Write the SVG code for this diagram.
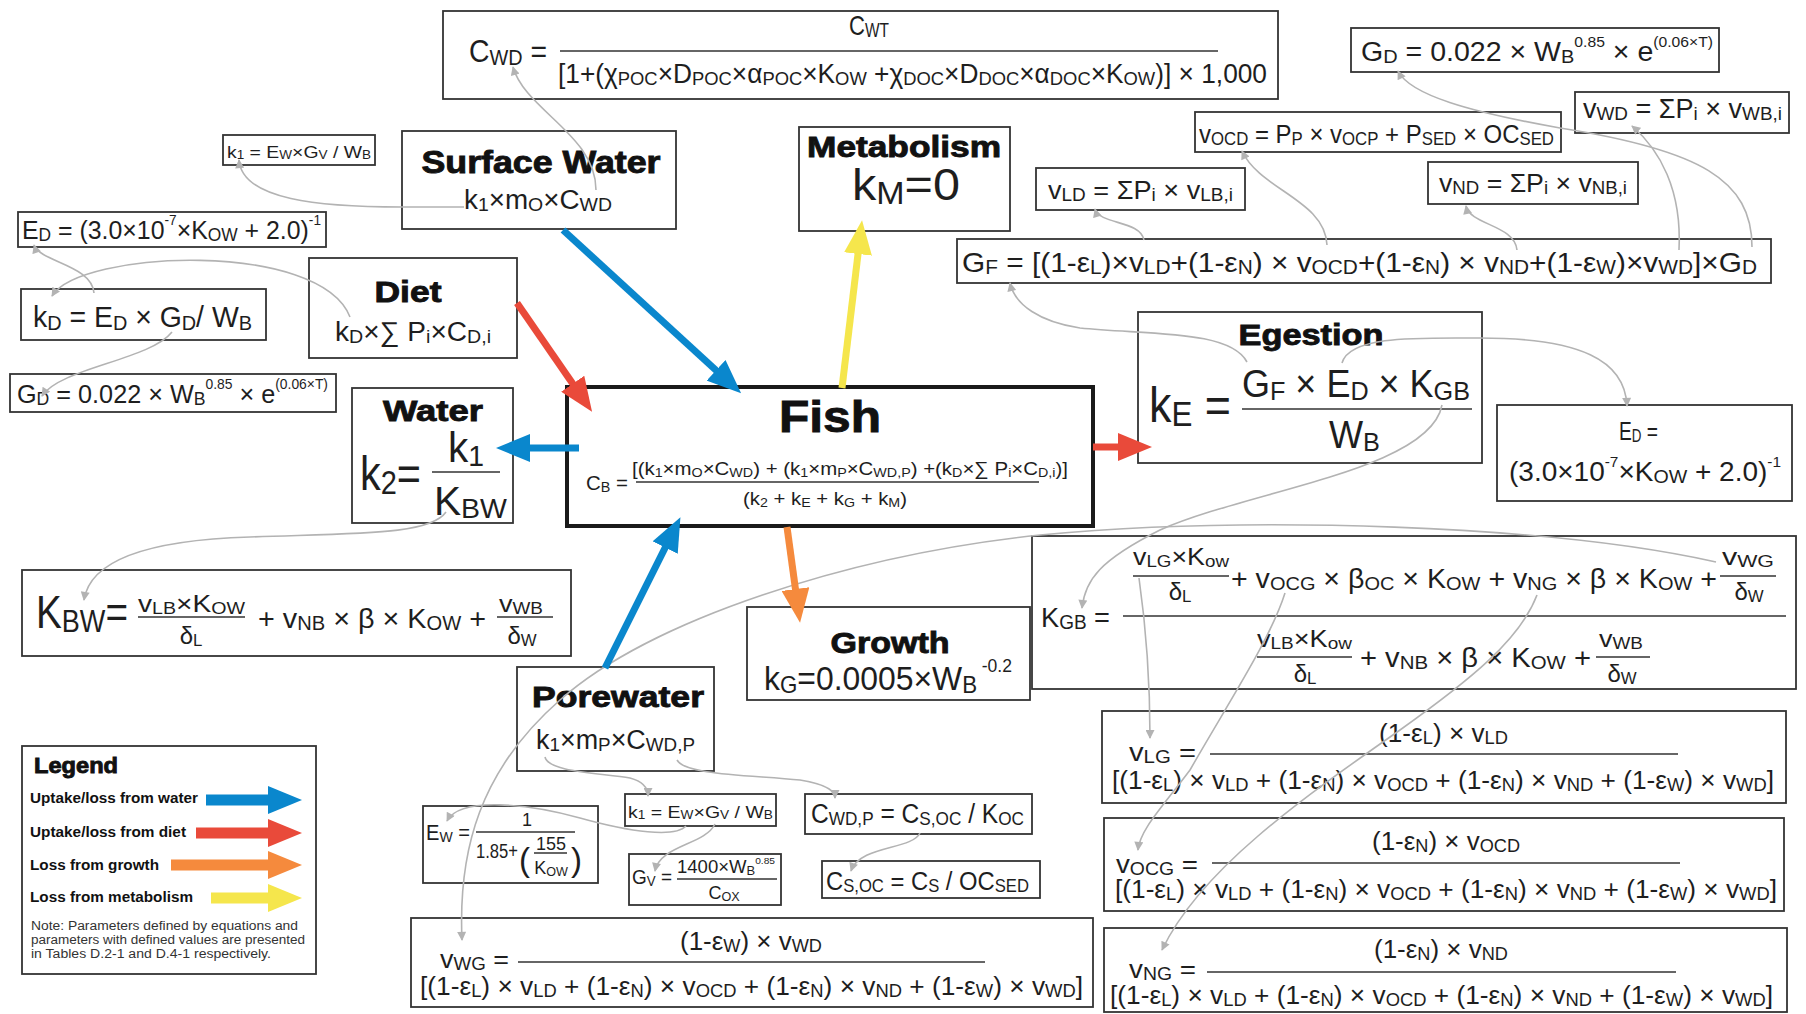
<svg xmlns="http://www.w3.org/2000/svg" width="1806" height="1014" viewBox="0 0 1806 1014">
<defs>
<style>
.bx{fill:#fff;stroke:#333;stroke-width:1.8}
.fish{fill:#fff;stroke:#1a1a1a;stroke-width:4}
.t{font-family:"Liberation Sans",Arial,sans-serif;fill:#1e1e1e}
.h{font-family:"Liberation Sans",Arial,sans-serif;font-weight:bold;fill:#111;stroke:#111;stroke-width:0.9}
.lg{font-family:"Liberation Sans",Arial,sans-serif;font-weight:bold;fill:#111;font-size:14px}
.nt{font-family:"Liberation Sans",Arial,sans-serif;fill:#333;font-size:12px}
.s{font-size:70%;baseline-shift:-0.12em}
.p{font-size:55%;baseline-shift:0.95em}
.fl{stroke:#333;stroke-width:1.6}
.g{fill:none;stroke:#b3b3b3;stroke-width:1.6;marker-end:url(#ga)}
.ar{fill:none;stroke-width:7}
.la{fill:none;stroke-width:11}
</style>
<marker id="ga" viewBox="0 0 10 10" refX="9" refY="5" markerWidth="10" markerHeight="9" markerUnits="userSpaceOnUse" orient="auto"><path d="M0,0 L10,5 L0,10 Z" fill="#b3b3b3"/></marker>
<marker id="mb" viewBox="0 0 34 28" refX="4" refY="14" markerWidth="34" markerHeight="28" markerUnits="userSpaceOnUse" orient="auto"><path d="M0,0 L34,14 L0,28 Z" fill="#0a87cd"/></marker>
<marker id="mr" viewBox="0 0 34 28" refX="4" refY="14" markerWidth="34" markerHeight="28" markerUnits="userSpaceOnUse" orient="auto"><path d="M0,0 L34,14 L0,28 Z" fill="#e94a3a"/></marker>
<marker id="mo" viewBox="0 0 34 28" refX="4" refY="14" markerWidth="34" markerHeight="28" markerUnits="userSpaceOnUse" orient="auto"><path d="M0,0 L34,14 L0,28 Z" fill="#f58a3d"/></marker>
<marker id="my" viewBox="0 0 34 28" refX="4" refY="14" markerWidth="34" markerHeight="28" markerUnits="userSpaceOnUse" orient="auto"><path d="M0,0 L34,14 L0,28 Z" fill="#f5e64c"/></marker>
</defs>
<rect width="1806" height="1014" fill="#fff"/>

<g id="cwd">
<rect class="bx" x="443" y="11" width="835" height="88"/>
<text class="t" x="469" y="62" font-size="32" textLength="78" lengthAdjust="spacingAndGlyphs">C<tspan class="s">WD</tspan> =</text>
<text class="t" x="869" y="35" font-size="28" text-anchor="middle" textLength="40" lengthAdjust="spacingAndGlyphs">C<tspan class="s">WT</tspan></text>
<line class="fl" x1="560" y1="51" x2="1218" y2="51"/>
<text class="t" x="558" y="83" font-size="27" textLength="709" lengthAdjust="spacingAndGlyphs">[1+(χ<tspan class="s">POC</tspan>×D<tspan class="s">POC</tspan>×α<tspan class="s">POC</tspan>×K<tspan class="s">OW</tspan> +χ<tspan class="s">DOC</tspan>×D<tspan class="s">DOC</tspan>×α<tspan class="s">DOC</tspan>×K<tspan class="s">OW</tspan>)] × 1,000</text>
</g>

<g id="gd-top">
<rect class="bx" x="1351" y="28" width="368" height="44"/>
<text class="t" x="1361" y="61" font-size="27" textLength="352" lengthAdjust="spacingAndGlyphs">G<tspan class="s">D</tspan> = 0.022 × W<tspan class="s">B</tspan><tspan class="p">0.85</tspan> × e<tspan class="p">(0.06×T)</tspan></text>
</g>

<g id="vwd">
<rect class="bx" x="1575" y="92" width="214" height="41"/>
<text class="t" x="1583" y="118" font-size="27" textLength="199" lengthAdjust="spacingAndGlyphs">v<tspan class="s">WD</tspan> = ΣP<tspan class="s">i</tspan> × v<tspan class="s">WB,i</tspan></text>
</g>

<g id="vocd">
<rect class="bx" x="1195" y="112" width="366" height="40"/>
<text class="t" x="1199" y="143" font-size="26" textLength="355" lengthAdjust="spacingAndGlyphs">v<tspan class="s">OCD</tspan> = P<tspan class="s">P</tspan> × v<tspan class="s">OCP</tspan> + P<tspan class="s">SED</tspan> × OC<tspan class="s">SED</tspan></text>
</g>

<g id="vnd">
<rect class="bx" x="1428" y="162" width="210" height="42"/>
<text class="t" x="1439" y="192" font-size="26" textLength="188" lengthAdjust="spacingAndGlyphs">v<tspan class="s">ND</tspan> = ΣP<tspan class="s">i</tspan> × v<tspan class="s">NB,i</tspan></text>
</g>

<g id="vld">
<rect class="bx" x="1036" y="168" width="209" height="42"/>
<text class="t" x="1048" y="199" font-size="26" textLength="185" lengthAdjust="spacingAndGlyphs">v<tspan class="s">LD</tspan> = ΣP<tspan class="s">i</tspan> × v<tspan class="s">LB,i</tspan></text>
</g>

<g id="gf">
<rect class="bx" x="957" y="239" width="814" height="44"/>
<text class="t" x="962" y="272" font-size="28" textLength="795" lengthAdjust="spacingAndGlyphs">G<tspan class="s">F</tspan> = [(1-ε<tspan class="s">L</tspan>)×v<tspan class="s">LD</tspan>+(1-ε<tspan class="s">N</tspan>) × v<tspan class="s">OCD</tspan>+(1-ε<tspan class="s">N</tspan>) × v<tspan class="s">ND</tspan>+(1-ε<tspan class="s">W</tspan>)×v<tspan class="s">WD</tspan>]×G<tspan class="s">D</tspan></text>
</g>

<g id="metabolism">
<rect class="bx" x="799" y="127" width="211" height="104"/>
<text class="h" x="904" y="157" font-size="30" text-anchor="middle" textLength="194" lengthAdjust="spacingAndGlyphs">Metabolism</text>
<text class="t" x="852" y="200" font-size="44" textLength="108" lengthAdjust="spacingAndGlyphs">k<tspan class="s">M</tspan>=0</text>
</g>

<g id="surface-water">
<rect class="bx" x="402" y="131" width="274" height="98"/>
<text class="h" x="541" y="173" font-size="31" text-anchor="middle" textLength="239" lengthAdjust="spacingAndGlyphs">Surface Water</text>
<text class="t" x="464" y="209" font-size="27" textLength="148" lengthAdjust="spacingAndGlyphs">k<tspan class="s">1</tspan>×m<tspan class="s">O</tspan>×C<tspan class="s">WD</tspan></text>
</g>

<g id="k1-top">
<rect class="bx" x="223" y="135" width="152" height="30"/>
<text class="t" x="227" y="158" font-size="17" textLength="144" lengthAdjust="spacingAndGlyphs">k<tspan class="s">1</tspan> = E<tspan class="s">W</tspan>×G<tspan class="s">V</tspan> / W<tspan class="s">B</tspan></text>
</g>

<g id="ed-left">
<rect class="bx" x="18" y="212" width="308" height="35"/>
<text class="t" x="22" y="239" font-size="26" textLength="299" lengthAdjust="spacingAndGlyphs">E<tspan class="s">D</tspan> = (3.0×10<tspan class="p">-7</tspan>×K<tspan class="s">OW</tspan> + 2.0)<tspan class="p">-1</tspan></text>
</g>

<g id="kd">
<rect class="bx" x="21" y="289" width="245" height="51"/>
<text class="t" x="33" y="327" font-size="30" textLength="219" lengthAdjust="spacingAndGlyphs">k<tspan class="s">D</tspan> = E<tspan class="s">D</tspan> × G<tspan class="s">D</tspan>/ W<tspan class="s">B</tspan></text>
</g>

<g id="diet">
<rect class="bx" x="309" y="258" width="208" height="100"/>
<text class="h" x="408" y="302" font-size="30" text-anchor="middle" textLength="67" lengthAdjust="spacingAndGlyphs">Diet</text>
<text class="t" x="335" y="341" font-size="27" textLength="156" lengthAdjust="spacingAndGlyphs">k<tspan class="s">D</tspan>×∑ P<tspan class="s">i</tspan>×C<tspan class="s">D,i</tspan></text>
</g>

<g id="gd-left">
<rect class="bx" x="10" y="374" width="326" height="38"/>
<text class="t" x="17" y="403" font-size="26" textLength="311" lengthAdjust="spacingAndGlyphs">G<tspan class="s">D</tspan> = 0.022 × W<tspan class="s">B</tspan><tspan class="p">0.85</tspan> × e<tspan class="p">(0.06×T)</tspan></text>
</g>

<g id="water">
<rect class="bx" x="352" y="388" width="161" height="135"/>
<text class="h" x="433" y="421" font-size="30" text-anchor="middle" textLength="100" lengthAdjust="spacingAndGlyphs">Water</text>
<text class="t" x="360" y="490" font-size="48" textLength="61" lengthAdjust="spacingAndGlyphs">k<tspan class="s">2</tspan>=</text>
<text class="t" x="448" y="462" font-size="42" textLength="36" lengthAdjust="spacingAndGlyphs">k<tspan class="s">1</tspan></text>
<line class="fl" x1="432" y1="472" x2="500" y2="472" stroke-width="2"/>
<text class="t" x="434" y="515" font-size="40" textLength="73" lengthAdjust="spacingAndGlyphs">K<tspan class="s">BW</tspan></text>
</g>

<g id="kbw">
<rect class="bx" x="22" y="570" width="549" height="86"/>
<text class="t" x="36" y="628" font-size="46" textLength="92" lengthAdjust="spacingAndGlyphs">K<tspan class="s">BW</tspan>=</text>
<text class="t" x="138" y="612" font-size="24" textLength="107" lengthAdjust="spacingAndGlyphs">v<tspan class="s">LB</tspan>×K<tspan class="s">OW</tspan></text>
<line class="fl" x1="138" y1="617" x2="245" y2="617"/>
<text class="t" x="191" y="644" font-size="24" text-anchor="middle">δ<tspan class="s">L</tspan></text>
<text class="t" x="258" y="628" font-size="28" textLength="228" lengthAdjust="spacingAndGlyphs">+ v<tspan class="s">NB</tspan> × β × K<tspan class="s">OW</tspan> +</text>
<text class="t" x="499" y="612" font-size="24" textLength="44" lengthAdjust="spacingAndGlyphs">v<tspan class="s">WB</tspan></text>
<line class="fl" x1="497" y1="617" x2="553" y2="617"/>
<text class="t" x="522" y="644" font-size="24" text-anchor="middle">δ<tspan class="s">W</tspan></text>
</g>

<g id="fish">
<rect class="fish" x="567" y="387" width="526" height="139"/>
<text class="h" x="830" y="432" font-size="44" text-anchor="middle" textLength="102" lengthAdjust="spacingAndGlyphs">Fish</text>
<text class="t" x="586" y="490" font-size="20" textLength="42" lengthAdjust="spacingAndGlyphs">C<tspan class="s">B</tspan> =</text>
<text class="t" x="632" y="475" font-size="19" textLength="436" lengthAdjust="spacingAndGlyphs">[(k<tspan class="s">1</tspan>×m<tspan class="s">O</tspan>×C<tspan class="s">WD</tspan>) + (k<tspan class="s">1</tspan>×m<tspan class="s">P</tspan>×C<tspan class="s">WD,P</tspan>) +(k<tspan class="s">D</tspan>×∑ P<tspan class="s">i</tspan>×C<tspan class="s">D,i</tspan>)]</text>
<line class="fl" x1="636" y1="482" x2="1039" y2="482"/>
<text class="t" x="743" y="505" font-size="19" textLength="164" lengthAdjust="spacingAndGlyphs">(k<tspan class="s">2</tspan> + k<tspan class="s">E</tspan> + k<tspan class="s">G</tspan> + k<tspan class="s">M</tspan>)</text>
</g>

<g id="egestion">
<rect class="bx" x="1138" y="312" width="344" height="151"/>
<text class="h" x="1311" y="345" font-size="30" text-anchor="middle" textLength="145" lengthAdjust="spacingAndGlyphs">Egestion</text>
<text class="t" x="1149" y="422" font-size="50" textLength="82" lengthAdjust="spacingAndGlyphs">k<tspan class="s">E</tspan> =</text>
<text class="t" x="1242" y="397" font-size="38" textLength="228" lengthAdjust="spacingAndGlyphs">G<tspan class="s">F</tspan> × E<tspan class="s">D</tspan> × K<tspan class="s">GB</tspan></text>
<line class="fl" x1="1242" y1="409" x2="1472" y2="409" stroke-width="2"/>
<text class="t" x="1329" y="448" font-size="38" textLength="51" lengthAdjust="spacingAndGlyphs">W<tspan class="s">B</tspan></text>
</g>

<g id="ed-right">
<rect class="bx" x="1497" y="405" width="295" height="96"/>
<text class="t" x="1619" y="440" font-size="26" textLength="39" lengthAdjust="spacingAndGlyphs">E<tspan class="s">D</tspan> =</text>
<text class="t" x="1509" y="481" font-size="27" textLength="272" lengthAdjust="spacingAndGlyphs">(3.0×10<tspan class="p">-7</tspan>×K<tspan class="s">OW</tspan> + 2.0)<tspan class="p">-1</tspan></text>
</g>

<g id="kgb">
<rect class="bx" x="1032" y="536" width="764" height="153"/>
<text class="t" x="1041" y="627" font-size="28" textLength="69" lengthAdjust="spacingAndGlyphs">K<tspan class="s">GB</tspan> =</text>
<line class="fl" x1="1123" y1="616" x2="1786" y2="616"/>
<text class="t" x="1133" y="565" font-size="23" textLength="96" lengthAdjust="spacingAndGlyphs">v<tspan class="s">LG</tspan>×K<tspan class="s">ow</tspan></text>
<line class="fl" x1="1133" y1="576" x2="1229" y2="576"/>
<text class="t" x="1180" y="600" font-size="24" text-anchor="middle">δ<tspan class="s">L</tspan></text>
<text class="t" x="1231" y="588" font-size="27" textLength="486" lengthAdjust="spacingAndGlyphs">+ v<tspan class="s">OCG</tspan> × β<tspan class="s">OC</tspan> × K<tspan class="s">OW</tspan> + v<tspan class="s">NG</tspan> × β × K<tspan class="s">OW</tspan> +</text>
<text class="t" x="1722" y="565" font-size="23" textLength="52" lengthAdjust="spacingAndGlyphs">v<tspan class="s">WG</tspan></text>
<line class="fl" x1="1720" y1="576" x2="1776" y2="576"/>
<text class="t" x="1749" y="600" font-size="24" text-anchor="middle">δ<tspan class="s">W</tspan></text>
<text class="t" x="1257" y="647" font-size="23" textLength="95" lengthAdjust="spacingAndGlyphs">v<tspan class="s">LB</tspan>×K<tspan class="s">ow</tspan></text>
<line class="fl" x1="1257" y1="657" x2="1352" y2="657"/>
<text class="t" x="1305" y="682" font-size="24" text-anchor="middle">δ<tspan class="s">L</tspan></text>
<text class="t" x="1360" y="667" font-size="27" textLength="231" lengthAdjust="spacingAndGlyphs">+ v<tspan class="s">NB</tspan> × β × K<tspan class="s">OW</tspan> +</text>
<text class="t" x="1599" y="647" font-size="23" textLength="44" lengthAdjust="spacingAndGlyphs">v<tspan class="s">WB</tspan></text>
<line class="fl" x1="1596" y1="657" x2="1650" y2="657"/>
<text class="t" x="1622" y="682" font-size="24" text-anchor="middle">δ<tspan class="s">W</tspan></text>
</g>

<g id="growth">
<rect class="bx" x="747" y="607" width="283" height="93"/>
<text class="h" x="890" y="653" font-size="30" text-anchor="middle" textLength="119" lengthAdjust="spacingAndGlyphs">Growth</text>
<text class="t" x="764" y="690" font-size="34" textLength="248" lengthAdjust="spacingAndGlyphs">k<tspan class="s">G</tspan>=0.0005×W<tspan class="s">B</tspan><tspan class="p" dx="5">-0.2</tspan></text>
</g>

<g id="porewater">
<rect class="bx" x="517" y="667" width="197" height="104"/>
<text class="h" x="618" y="707" font-size="30" text-anchor="middle" textLength="172" lengthAdjust="spacingAndGlyphs">Porewater</text>
<text class="t" x="536" y="749" font-size="27" textLength="159" lengthAdjust="spacingAndGlyphs">k<tspan class="s">1</tspan>×m<tspan class="s">P</tspan>×C<tspan class="s">WD,P</tspan></text>
</g>

<g id="ew">
<rect class="bx" x="423" y="806" width="175" height="77"/>
<text class="t" x="426" y="840" font-size="22" textLength="44" lengthAdjust="spacingAndGlyphs">E<tspan class="s">W</tspan> =</text>
<text class="t" x="527" y="826" font-size="18" text-anchor="middle">1</text>
<line class="fl" x1="476" y1="832" x2="575" y2="832"/>
<text class="t" x="476" y="858" font-size="20" textLength="42" lengthAdjust="spacingAndGlyphs">1.85+</text>
<text class="t" x="519" y="871" font-size="34" textLength="11" lengthAdjust="spacingAndGlyphs">(</text>
<text class="t" x="551" y="850" font-size="18" text-anchor="middle">155</text>
<line class="fl" x1="534" y1="853" x2="567" y2="853" stroke-width="1.2"/>
<text class="t" x="551" y="874" font-size="18" text-anchor="middle">K<tspan class="s">OW</tspan></text>
<text class="t" x="571" y="871" font-size="34" textLength="11" lengthAdjust="spacingAndGlyphs">)</text>
</g>

<g id="k1-bottom">
<rect class="bx" x="625" y="794" width="151" height="32"/>
<text class="t" x="628" y="818" font-size="17" textLength="145" lengthAdjust="spacingAndGlyphs">k<tspan class="s">1</tspan> = E<tspan class="s">W</tspan>×G<tspan class="s">V</tspan> / W<tspan class="s">B</tspan></text>
</g>

<g id="cwdp">
<rect class="bx" x="805" y="794" width="227" height="40"/>
<text class="t" x="811" y="823" font-size="27" textLength="213" lengthAdjust="spacingAndGlyphs">C<tspan class="s">WD,P</tspan> = C<tspan class="s">S,OC</tspan> / K<tspan class="s">OC</tspan></text>
</g>

<g id="gv">
<rect class="bx" x="629" y="854" width="152" height="51"/>
<text class="t" x="632" y="884" font-size="20" textLength="40" lengthAdjust="spacingAndGlyphs">G<tspan class="s">V</tspan> =</text>
<text class="t" x="677" y="873" font-size="18" textLength="98" lengthAdjust="spacingAndGlyphs">1400×W<tspan class="s">B</tspan><tspan class="p">0.85</tspan></text>
<line class="fl" x1="677" y1="879" x2="777" y2="879" stroke-width="1.2"/>
<text class="t" x="724" y="899" font-size="18" text-anchor="middle">C<tspan class="s">OX</tspan></text>
</g>

<g id="csoc">
<rect class="bx" x="822" y="861" width="218" height="37"/>
<text class="t" x="826" y="890" font-size="26" textLength="203" lengthAdjust="spacingAndGlyphs">C<tspan class="s">S,OC</tspan> = C<tspan class="s">S</tspan> / OC<tspan class="s">SED</tspan></text>
</g>

<g id="vwg">
<rect class="bx" x="411" y="918" width="682" height="89"/>
<text class="t" x="440" y="968" font-size="26" textLength="69" lengthAdjust="spacingAndGlyphs">v<tspan class="s">WG</tspan> =</text>
<text class="t" x="680" y="950" font-size="26" textLength="142" lengthAdjust="spacingAndGlyphs">(1-ε<tspan class="s">W</tspan>) × v<tspan class="s">WD</tspan></text>
<line class="fl" x1="518" y1="962" x2="985" y2="962"/>
<text class="t" x="420" y="995" font-size="26" textLength="663" lengthAdjust="spacingAndGlyphs">[(1-ε<tspan class="s">L</tspan>) × v<tspan class="s">LD</tspan> + (1-ε<tspan class="s">N</tspan>) × v<tspan class="s">OCD</tspan> + (1-ε<tspan class="s">N</tspan>) × v<tspan class="s">ND</tspan> + (1-ε<tspan class="s">W</tspan>) × v<tspan class="s">WD</tspan>]</text>
</g>

<g id="vlg">
<rect class="bx" x="1102" y="711" width="684" height="92"/>
<text class="t" x="1129" y="761" font-size="26" textLength="67" lengthAdjust="spacingAndGlyphs">v<tspan class="s">LG</tspan> =</text>
<text class="t" x="1379" y="742" font-size="26" textLength="129" lengthAdjust="spacingAndGlyphs">(1-ε<tspan class="s">L</tspan>) × v<tspan class="s">LD</tspan></text>
<line class="fl" x1="1210" y1="754" x2="1678" y2="754"/>
<text class="t" x="1112" y="789" font-size="26" textLength="662" lengthAdjust="spacingAndGlyphs">[(1-ε<tspan class="s">L</tspan>) × v<tspan class="s">LD</tspan> + (1-ε<tspan class="s">N</tspan>) × v<tspan class="s">OCD</tspan> + (1-ε<tspan class="s">N</tspan>) × v<tspan class="s">ND</tspan> + (1-ε<tspan class="s">W</tspan>) × v<tspan class="s">WD</tspan>]</text>
</g>

<g id="vocg">
<rect class="bx" x="1104" y="818" width="680" height="93"/>
<text class="t" x="1116" y="873" font-size="26" textLength="82" lengthAdjust="spacingAndGlyphs">v<tspan class="s">OCG</tspan> =</text>
<text class="t" x="1372" y="850" font-size="26" textLength="148" lengthAdjust="spacingAndGlyphs">(1-ε<tspan class="s">N</tspan>) × v<tspan class="s">OCD</tspan></text>
<line class="fl" x1="1212" y1="863" x2="1680" y2="863"/>
<text class="t" x="1115" y="898" font-size="26" textLength="662" lengthAdjust="spacingAndGlyphs">[(1-ε<tspan class="s">L</tspan>) × v<tspan class="s">LD</tspan> + (1-ε<tspan class="s">N</tspan>) × v<tspan class="s">OCD</tspan> + (1-ε<tspan class="s">N</tspan>) × v<tspan class="s">ND</tspan> + (1-ε<tspan class="s">W</tspan>) × v<tspan class="s">WD</tspan>]</text>
</g>

<g id="vng">
<rect class="bx" x="1104" y="928" width="683" height="84"/>
<text class="t" x="1129" y="978" font-size="26" textLength="67" lengthAdjust="spacingAndGlyphs">v<tspan class="s">NG</tspan> =</text>
<text class="t" x="1374" y="958" font-size="26" textLength="134" lengthAdjust="spacingAndGlyphs">(1-ε<tspan class="s">N</tspan>) × v<tspan class="s">ND</tspan></text>
<line class="fl" x1="1207" y1="972" x2="1676" y2="972"/>
<text class="t" x="1110" y="1004" font-size="26" textLength="663" lengthAdjust="spacingAndGlyphs">[(1-ε<tspan class="s">L</tspan>) × v<tspan class="s">LD</tspan> + (1-ε<tspan class="s">N</tspan>) × v<tspan class="s">OCD</tspan> + (1-ε<tspan class="s">N</tspan>) × v<tspan class="s">ND</tspan> + (1-ε<tspan class="s">W</tspan>) × v<tspan class="s">WD</tspan>]</text>
</g>

<g id="legend">
<rect class="bx" x="22" y="746" width="294" height="228"/>
<text class="h" x="34" y="773" font-size="22" textLength="84" lengthAdjust="spacingAndGlyphs" stroke-width="0.6">Legend</text>
<text class="lg" x="30" y="803" textLength="168" lengthAdjust="spacingAndGlyphs">Uptake/loss from water</text>
<line class="la" x1="206" y1="800" x2="272" y2="800" stroke="#0a87cd" marker-end="url(#mb)"/>
<text class="lg" x="30" y="837" textLength="156" lengthAdjust="spacingAndGlyphs">Uptake/loss from diet</text>
<line class="la" x1="196" y1="833" x2="272" y2="833" stroke="#e94a3a" marker-end="url(#mr)"/>
<text class="lg" x="30" y="870" textLength="129" lengthAdjust="spacingAndGlyphs">Loss from growth</text>
<line class="la" x1="171" y1="865" x2="272" y2="865" stroke="#f58a3d" marker-end="url(#mo)"/>
<text class="lg" x="30" y="902" textLength="163" lengthAdjust="spacingAndGlyphs">Loss from metabolism</text>
<line class="la" x1="211" y1="898" x2="272" y2="898" stroke="#f5e64c" marker-end="url(#my)"/>
<text class="nt" x="31" y="930" textLength="267" lengthAdjust="spacingAndGlyphs">Note: Parameters defined by equations and</text>
<text class="nt" x="31" y="944" textLength="274" lengthAdjust="spacingAndGlyphs">parameters with defined values are presented</text>
<text class="nt" x="31" y="958" textLength="240" lengthAdjust="spacingAndGlyphs">in Tables D.2-1 and D.4-1 respectively.</text>
</g>

<g id="connectors">
<path class="g" d="M596,190 C596,135 525,110 513,67"/>
<path class="g" d="M464,207 L402,207 C320,207 242,200 239,160"/>
<path class="g" d="M94,293 C92,265 40,262 34,245"/>
<path class="g" d="M350,317 C320,240 80,250 52,296"/>
<path class="g" d="M172,332 C150,360 60,368 42,396"/>
<path class="g" d="M446,512 C430,535 360,533 250,537 C150,540 90,560 84,600"/>
<path class="g" d="M1247,362 C1230,330 1150,335 1080,328 C1040,322 1015,305 1010,283"/>
<path class="g" d="M1342,363 C1350,335 1420,338 1480,338 C1580,338 1625,360 1627,406"/>
<path class="g" d="M1442,405 C1430,470 1250,490 1160,530 C1100,560 1085,580 1082,608"/>
<path class="g" d="M1716,562 C1550,525 1250,515 1040,535 C850,555 650,620 560,700 C480,770 458,850 462,940"/>
<path class="g" d="M545,757 C548,772 600,773 630,778 C645,782 648,790 648,796"/>
<path class="g" d="M677,760 C685,775 750,775 800,780 C830,785 835,792 835,798"/>
<path class="g" d="M686,826 C675,838 630,832 580,818 C530,804 460,796 447,821"/>
<path class="g" d="M715,824 C705,845 660,845 655,871"/>
<path class="g" d="M920,833 C912,850 860,845 851,871"/>
<path class="g" d="M1144,240 C1140,220 1100,225 1095,209"/>
<path class="g" d="M1327,245 C1325,200 1260,190 1242,151"/>
<path class="g" d="M1517,250 C1515,225 1470,225 1466,206"/>
<path class="g" d="M1679,250 C1682,190 1660,150 1632,126"/>
<path class="g" d="M1752,247 C1752,180 1700,150 1560,128 C1470,112 1410,95 1398,71"/>
<path class="g" d="M1139,578 C1145,620 1150,680 1150,738"/>
<path class="g" d="M1285,593 C1270,640 1230,700 1190,770 C1160,810 1140,830 1138,850"/>
<path class="g" d="M1537,595 C1520,640 1470,680 1400,730 C1300,800 1200,870 1162,950"/>
<line class="ar" x1="563" y1="230" x2="719" y2="373" stroke="#0a87cd" marker-end="url(#mb)"/>
<line class="ar" x1="517" y1="303" x2="575" y2="387" stroke="#e94a3a" marker-end="url(#mr)"/>
<line class="ar" x1="842" y1="388" x2="858.5" y2="250" stroke="#f5e64c" marker-end="url(#my)"/>
<line class="ar" x1="579" y1="448" x2="526" y2="448" stroke="#0a87cd" marker-end="url(#mb)"/>
<line class="ar" x1="1093" y1="447" x2="1122" y2="447" stroke="#e94a3a" marker-end="url(#mr)"/>
<line class="ar" x1="787" y1="527" x2="796" y2="593" stroke="#f58a3d" marker-end="url(#mo)"/>
<line class="ar" x1="605" y1="668" x2="667" y2="544" stroke="#0a87cd" marker-end="url(#mb)"/>
</g>
</svg>
